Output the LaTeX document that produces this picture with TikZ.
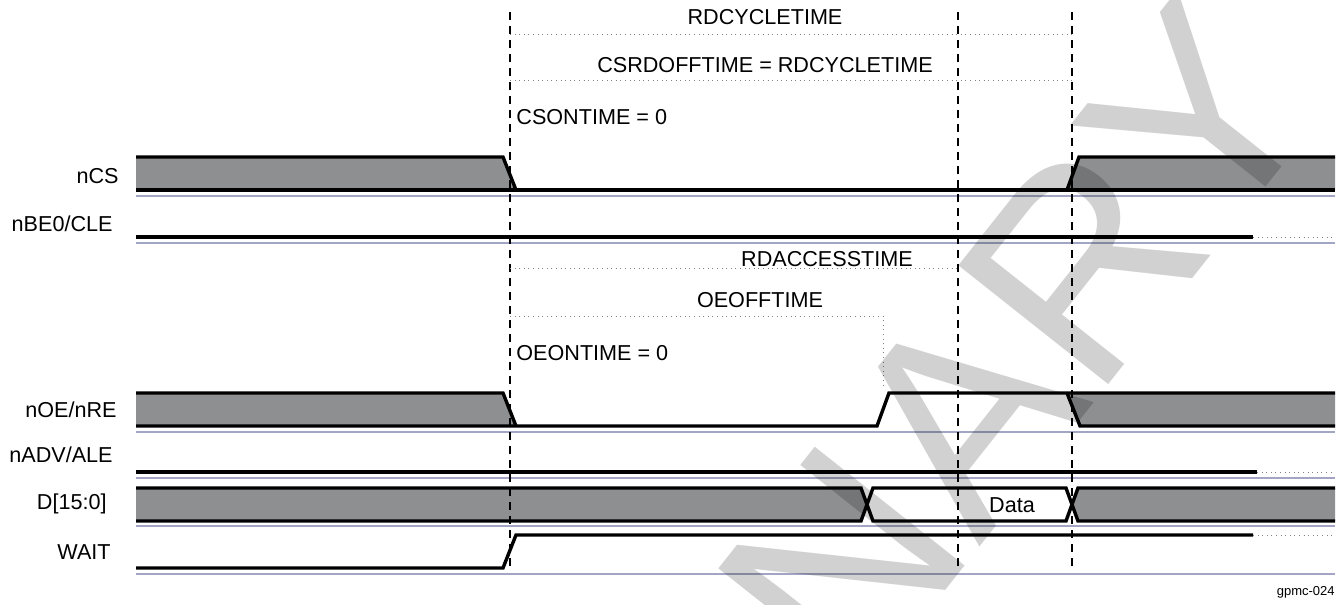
\documentclass[tikz,border=0pt]{standalone}
\usepackage{fontspec}
\setmainfont{Liberation Sans}
\usetikzlibrary{calc}

\definecolor{busgray}{RGB}{142,143,145}
\definecolor{baseblue}{RGB}{162,166,196}

\begin{document}
\begin{tikzpicture}[x=0.5pt, y=-0.5pt,
  sig/.style={line width=1.7pt, line join=miter},
  busfill/.style={fill=busgray, draw=none},
  baseln/.style={baseblue, line width=1.1pt},
  guide/.style={dashed, line width=0.7pt, dash pattern=on 4pt off 3pt},
  meas/.style={dotted, gray, line width=0.3pt},
  lbl/.style={font=\fontsize{10.8}{13}\selectfont, inner sep=0pt},
  signame/.style={lbl, anchor=east}
]
  \useasboundingbox (0,0) rectangle (1340,605);

  % grey (invalid) areas
  \fill[busfill] (136,157) -- (503,157) -- (516,190) -- (136,190) -- cycle;
  \fill[busfill] (1079,157) -- (1335,157) -- (1335,190) -- (1067,190) -- cycle;
  \fill[busfill] (136,393) -- (503,393) -- (516,426) -- (136,426) -- cycle;
  \fill[busfill] (1067,393) -- (1335,393) -- (1335,426) -- (1080,426) -- cycle;
  \fill[busfill] (136,488) -- (861,488) -- (867,504.5) -- (861,521) -- (136,521) -- cycle;
  \fill[busfill] (1078,488) -- (1335,488) -- (1335,521) -- (1078,521) -- (1072,504.5) -- cycle;

  % base lines of the rows
  \foreach \y in {196,243,432,478,526,574}
    \draw[baseln] (136,\y) -- (1335,\y);

  % time marks
  \coordinate (tA) at (510,12);
  \coordinate (tB) at (958,12);
  \coordinate (tC) at (1072,12);
  \foreach \t in {tA,tB,tC}
    \draw[guide] (\t) -- ($(\t)+(0,558)$);

  % nCS
  \draw[sig] (136,157) -- (503,157) -- (516,190) -- (1067,190) -- (1079,157) -- (1335,157);
  \draw[sig] (136,190) -- (1335,190);
  % nBE0/CLE
  \draw[sig] (136,237) -- (1253,237);
  \draw[meas] (1253,237) -- (1335,237);
  % nOE/nRE
  \draw[sig] (136,393) -- (503,393) -- (516,426);
  \draw[sig] (136,426) -- (877,426) -- (889,393) -- (1335,393);
  \draw[sig] (1067,393) -- (1080,426) -- (1335,426);
  % nADV/ALE
  \draw[sig] (136,472) -- (1257,472);
  \draw[meas] (1257,472) -- (1335,472);
  % D[15:0]
  \draw[sig] (136,488) -- (861,488) -- (873,521) -- (1066,521) -- (1078,488) -- (1335,488);
  \draw[sig] (136,521) -- (861,521) -- (873,488) -- (1066,488) -- (1078,521) -- (1335,521);
  % WAIT
  \draw[sig] (136,568) -- (503,568) -- (516,535) -- (1253,535);
  \draw[meas] (1253,535) -- (1335,535);

  % timing parameters
  \draw[meas] (510,34) -- (1072,34);
  \draw[meas] (510,80) -- (1072,80);
  \draw[meas] (510,268) -- (958,268);
  \draw[meas] (510,316) -- (883,316) -- (883,385);
  \node[lbl] (rdcyc) at (765,17) {RDCYCLETIME};
  \node[lbl] (csoff) at (765,65) {CSRDOFFTIME = RDCYCLETIME};
  \node[lbl, anchor=west] (cson) at (516,117) {CSONTIME = 0};
  \node[lbl] (rdacc) at (827,259) {RDACCESSTIME};
  \node[lbl] (oeoff) at (760,300) {OEOFFTIME};
  \node[lbl, anchor=west] (oeon) at (516,353) {OEONTIME = 0};

  % signal names
  \node[signame] (ncs)  at (119,176) {nCS};
  \node[signame] (nbe)  at (113,224) {nBE0/CLE};
  \node[signame] (noe)  at (117,410) {nOE/nRE};
  \node[signame] (nadv) at (113,455) {nADV/ALE};
  \node[signame] (dbus) at (107,504) {D[15:0]};
  \node[signame] (wait) at (111,552) {WAIT};
  \node[lbl] (data) at (1012,505) {Data};
  \node[lbl, anchor=east, font=\fontsize{6.5}{8}\selectfont] (fig) at (1335,592) {gpmc-024};

  % watermark
  \begin{scope}
    \clip (0,0) rectangle (1340,605);
    \node[rotate=51.6, anchor=base east, inner sep=0pt, text=black, text opacity=0.18,
          font=\fontsize{139}{139}\selectfont] (wm) at (1331.5,103.4) {PRELIMINARY};
  \end{scope}
\end{tikzpicture}
\end{document}
